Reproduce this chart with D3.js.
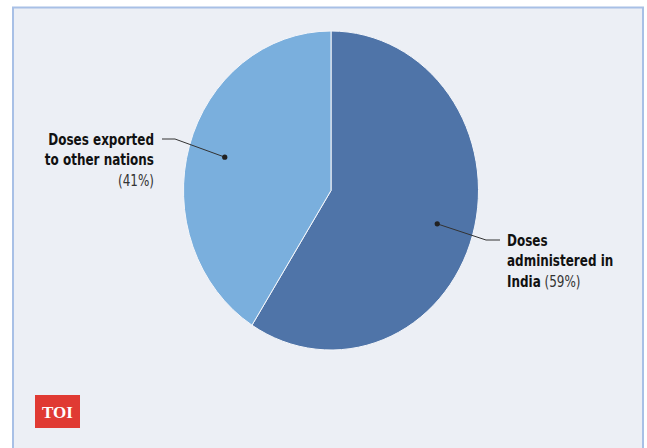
<!DOCTYPE html>
<html>
<head>
<meta charset="utf-8">
<script src="https://cdn.jsdelivr.net/npm/d3@7"></script>
<style>
  body { margin: 0; background: #fff; }
  svg { display: block; }
</style>
</head>
<body>
<div id="chart"></div>
<script>
// data
const categories = ["Doses administered in India", "Doses exported to other nations"];
const shares = [59, 41];
const colors = ["#4f74a8", "#7aafdd"];

const W = 647, H = 448;
const cx = 331, cy = 190.5, rx = 147.5, ry = 159.5;

var svg = d3.select("#chart").append("svg")
  .attr("width", W).attr("height", H);

// panel
svg.append("rect")
  .attr("x", 13).attr("y", 7.5)
  .attr("width", 630).attr("height", 450)
  .attr("fill", "#eceff5")
  .attr("stroke", "#a8c0e6").attr("stroke-width", 2);

const data = categories.map((c, i) => ({ label: c, value: shares[i], color: colors[i] }));

const pie = d3.pie().sort(null).value(d => d.value);
const arcs = pie(data);
const arc = d3.arc().innerRadius(0).outerRadius(rx);
const dotArc = d3.arc().innerRadius(rx * 0.75).outerRadius(rx * 0.75);

const g = svg.append("g")
  .attr("transform", `translate(${cx},${cy}) scale(1,${ry / rx})`);

g.selectAll("path.slice")
  .data(arcs)
  .enter()
  .append("path")
    .attr("class", "slice")
    .attr("d", arc)
    .attr("fill", d => d.data.color)
    .attr("stroke", "#f4f6fa")
    .attr("stroke-width", 1)
    .attr("vector-effect", "non-scaling-stroke");

// dots in screen coordinates
const dots = arcs.map(a => {
  const c = dotArc.centroid(a);
  return [cx + c[0], cy + c[1] * ry / rx];
});

const font = "'DejaVu Sans Condensed', 'Liberation Sans Narrow', sans-serif";
const squeeze = 0.86;

// leader lines
const leaders = [
  [dots[0], [486, 240], [500, 240]],
  [dots[1], [175, 139], [162, 139]]
];
svg.selectAll("path.leader")
  .data(leaders)
  .enter()
  .append("path")
    .attr("class", "leader")
    .attr("d", d => d3.line()(d))
    .attr("fill", "none")
    .attr("stroke", "#333")
    .attr("stroke-width", 1);

svg.selectAll("circle.dot")
  .data(dots)
  .enter()
  .append("circle")
    .attr("class", "dot")
    .attr("cx", d => d[0]).attr("cy", d => d[1])
    .attr("r", 2.6)
    .attr("fill", "#222");

// left label
const lt = svg.append("g")
  .attr("transform", `translate(154,0) scale(${squeeze},1)`)
  .append("text")
  .attr("text-anchor", "end")
  .attr("font-family", font)
  .attr("font-size", 15.5)
  .attr("fill", "#111");
lt.append("tspan").attr("x", 0).attr("y", 145).attr("font-weight", "bold").text("Doses exported");
lt.append("tspan").attr("x", 0).attr("y", 165).attr("font-weight", "bold").text("to other nations");
lt.append("tspan").attr("x", 0).attr("y", 186).attr("fill", "#333").text(`(${shares[1]}%)`);

// right label
const rt = svg.append("g")
  .attr("transform", `translate(507,0) scale(${squeeze},1)`)
  .append("text")
  .attr("text-anchor", "start")
  .attr("font-family", font)
  .attr("font-size", 15.5)
  .attr("fill", "#111");
rt.append("tspan").attr("x", 0).attr("y", 246).attr("font-weight", "bold").text("Doses");
rt.append("tspan").attr("x", 0).attr("y", 266).attr("font-weight", "bold").text("administered in");
const r3 = rt.append("tspan").attr("x", 0).attr("y", 287);
r3.append("tspan").attr("font-weight", "bold").text("India");
r3.append("tspan").attr("fill", "#333").text(` (${shares[0]}%)`);

// TOI logo
svg.append("rect")
  .attr("x", 35).attr("y", 395)
  .attr("width", 45).attr("height", 33)
  .attr("fill", "#e03a33");
svg.append("text")
  .attr("x", 57.5).attr("y", 418)
  .attr("text-anchor", "middle")
  .attr("font-family", "'Liberation Serif', 'DejaVu Serif', serif")
  .attr("font-size", 17)
  .attr("font-weight", "bold")
  .attr("fill", "#fff")
  .text("TOI");
</script>
</body>
</html>
